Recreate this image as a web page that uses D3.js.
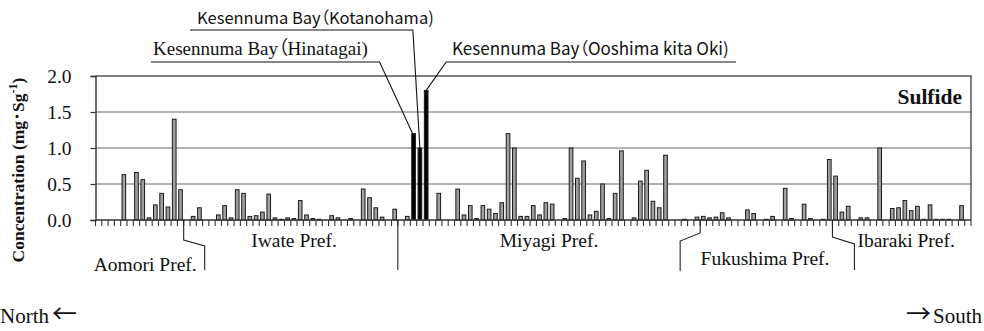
<!DOCTYPE html>
<html><head><meta charset="utf-8">
<script src="https://cdn.jsdelivr.net/npm/d3@7"></script>
<style>
body{margin:0;background:#fff;}
svg{display:block;}
</style></head><body>
<svg id="chart" width="984" height="331"></svg>
<script>
// Sulfide concentration (mg/g) at coastal sites ordered from north to south; null = no sample
const sulfide = [
  null, null, null, null, 0.63, null, 0.66, 0.56, 0.03, 0.21,
  0.37, 0.18, 1.40, 0.42, null, 0.05, 0.17, null, null, 0.07,
  0.20, 0.03, 0.42, 0.37, 0.05, 0.06, 0.11, 0.36, 0.03, 0.01,
  0.03, 0.02, 0.27, 0.07, 0.02, 0.01, null, 0.06, 0.03, null,
  0.02, null, 0.43, 0.31, 0.17, 0.04, null, 0.15, null, 0.05,
  1.20, 1.00, 1.80, null, 0.37, null, null, 0.43, 0.07, 0.20,
  0.02, 0.20, 0.15, 0.09, 0.24, 1.20, 1.00, 0.05, 0.05, 0.20,
  0.07, 0.24, 0.22, null, 0.02, 1.00, 0.58, 0.82, 0.07, 0.12,
  0.50, 0.02, 0.37, 0.96, null, 0.03, 0.54, 0.69, 0.26, 0.17,
  0.90, null, null, 0.01, null, 0.04, 0.05, 0.03, 0.04, 0.10,
  0.03, null, null, 0.14, 0.09, null, 0.01, 0.05, null, 0.44,
  0.02, null, 0.22, 0.02, null, 0.01, 0.84, 0.61, 0.11, 0.19,
  null, 0.03, 0.03, null, 1.00, null, 0.16, 0.17, 0.27, 0.13,
  0.19, 0.01, 0.21, 0.01, 0.01, 0.01, null, 0.20, null
];
const sites = d3.range(sulfide.length);
const highlightedSites = [50, 51, 52];        // Kesennuma Bay sites
const bayLabels = ["Kesennuma Bay（Hinatagai)", "Kesennuma Bay（Kotanohama)", "Kesennuma Bay（Ooshima kita Oki)"];
const yTicks = [0, 0.5, 1.0, 1.5, 2.0];
const prefBoundaries = [14, 48, 96, 117];      // first site of the next prefecture
const prefectures = ["Aomori Pref.", "Iwate Pref.", "Miyagi Pref.", "Fukushima Pref.", "Ibaraki Pref."];

const svg = d3.select("#chart");
const serif = "'Liberation Serif','Times New Roman',serif";
const sans = "'Noto Sans CJK JP','Noto Sans',sans-serif";
const cjk = "'Noto Sans CJK JP',sans-serif";

const plotL = 95.5, plotR = 971, plotT = 76, plotB = 220;
const x = d3.scaleBand().domain(sites).range([plotL, plotR]).paddingInner(0.42).paddingOuter(0.21);
const y = d3.scaleLinear().domain([0, 2]).range([plotB, plotT]);
const step = x.step();
const boundary = i => plotL + i * step;

// gridlines
svg.append("g").selectAll("line").data(yTicks.filter(v => v > 0 && v < 2)).join("line")
  .attr("x1", plotL).attr("x2", plotR).attr("y1", d => y(d)).attr("y2", d => y(d))
  .attr("stroke", "#999").attr("stroke-width", 1.5);
// plot frame: top and right
svg.append("path").attr("d", `M${plotL},${y(2)}H${plotR}V${plotB}`)
  .attr("fill", "none").attr("stroke", "#555").attr("stroke-width", 1.5);

// y axis
const yAxis = svg.append("g").attr("transform", `translate(${plotL},0)`)
  .call(d3.axisLeft(y).tickValues(yTicks).tickFormat(d3.format(".1f")).tickSize(5).tickPadding(19));
yAxis.select(".domain").attr("stroke", "#333").attr("stroke-width", 1.4);
yAxis.selectAll(".tick line").attr("stroke", "#333").attr("stroke-width", 1.2);
yAxis.selectAll("text").attr("font-family", serif).attr("font-size", 19.5).attr("fill", "#111");

// bars
svg.append("g").selectAll("rect").data(sites.filter(i => sulfide[i] !== null)).join("rect")
  .attr("x", i => x(i)).attr("width", x.bandwidth())
  .attr("y", i => y(sulfide[i])).attr("height", i => y(0) - y(sulfide[i]))
  .attr("fill", i => highlightedSites.includes(i) ? "#000" : "#a0a0a0")
  .attr("stroke", "#1a1a1a").attr("stroke-width", 1);

// category axis with ticks between sites
svg.append("line").attr("x1", plotL).attr("x2", plotR).attr("y1", plotB).attr("y2", plotB)
  .attr("stroke", "#333").attr("stroke-width", 1.4);
svg.append("g").selectAll("line").data(d3.range(sites.length + 1)).join("line")
  .attr("x1", i => boundary(i)).attr("x2", i => boundary(i))
  .attr("y1", plotB).attr("y2", plotB + 6)
  .attr("stroke", "#333").attr("stroke-width", 1.1);

// prefecture dividers
const [b1, b2, b3, b4] = prefBoundaries.map(boundary);
const leaders = [
  `M${b1},${plotB}V240L${b1 + 21},246V270`,
  `M${b2},${plotB}V270`,
  `M${b3},${plotB}V233L${b3 - 20},241V271`,
  `M${b4},${plotB}V237L${b4 + 22},244V270`
];
svg.append("g").selectAll("path").data(leaders).join("path")
  .attr("d", d => d).attr("fill", "none").attr("stroke", "#222").attr("stroke-width", 1.1);

const prefPos = [
  {x: b1 + 13, y: 271, anchor: "end"},
  {x: 294, y: 247, anchor: "middle"},
  {x: 549, y: 247, anchor: "middle"},
  {x: 765, y: 265, anchor: "middle"},
  {x: b4 + 25, y: 247, anchor: "start"}
];
svg.append("g").selectAll("text").data(prefectures).join("text")
  .attr("x", (d, i) => prefPos[i].x).attr("y", (d, i) => prefPos[i].y)
  .attr("text-anchor", (d, i) => prefPos[i].anchor)
  .attr("font-family", serif).attr("font-size", 19.5).attr("fill", "#111")
  .text(d => d);

// Kesennuma Bay callouts
const [hIdx, kIdx, oIdx] = highlightedSites;
const topOf = i => [x(i) + x.bandwidth() / 2, y(sulfide[i])];
const [hx, hy] = topOf(hIdx), [kx, ky] = topOf(kIdx), [ox, oy] = topOf(oIdx);
const callouts = svg.append("g").attr("fill", "none").attr("stroke", "#111").attr("stroke-width", 1.1);
callouts.append("path").attr("d", `M190,30H${kx - 7}L${kx},${ky}`);
callouts.append("path").attr("d", `M151,62H${hx - 34}L${hx - 1},${hy}`);
callouts.append("path").attr("d", `M${ox},${oy}L${ox + 20},62H736`);

// label whose full-width bracket uses proportional (palt) spacing
function bayLabel(text, px, py, family, size) {
  const [head, tail] = text.split("（");
  const t = svg.append("text").attr("x", px).attr("y", py).attr("font-family", family)
    .attr("font-size", size).attr("fill", "#111");
  t.append("tspan").text(head);
  t.append("tspan").attr("font-family", cjk).style("font-feature-settings", "'palt' 1").text("（");
  t.append("tspan").text(tail);
}
bayLabel(bayLabels[1], 197, 24, sans, 16.5);
bayLabel(bayLabels[0], 153, 55, serif, 19);
bayLabel(bayLabels[2], 452, 55, sans, 17);

// series label
svg.append("text").attr("x", 962).attr("y", 104).attr("text-anchor", "end")
  .attr("font-family", serif).attr("font-weight", "bold").attr("font-size", 21.5).attr("fill", "#111")
  .text("Sulfide");

// y axis title
const yt = svg.append("text").attr("transform", "translate(24,170) rotate(-90)")
  .attr("text-anchor", "middle").attr("font-family", serif).attr("font-weight", "bold")
  .attr("font-size", 17.5).attr("fill", "#111");
yt.append("tspan").text("Concentration (mg･Sg");
yt.append("tspan").attr("font-size", 12).attr("dy", -7).text("-1");
yt.append("tspan").attr("dy", 7).text(")");

// direction labels
const north = svg.append("text").attr("x", 0).attr("y", 323).attr("font-family", serif)
  .attr("font-size", 21).attr("fill", "#111");
north.append("tspan").text("North");
north.append("tspan").attr("font-family", cjk).attr("font-size", 25).attr("dx", 3).text("←");
const south = svg.append("text").attr("x", 982).attr("y", 323).attr("text-anchor", "end")
  .attr("font-family", serif).attr("font-size", 21).attr("fill", "#111");
south.append("tspan").attr("font-family", cjk).attr("font-size", 25).text("→");
south.append("tspan").attr("dx", 2).text("South");
</script>
</body></html>
